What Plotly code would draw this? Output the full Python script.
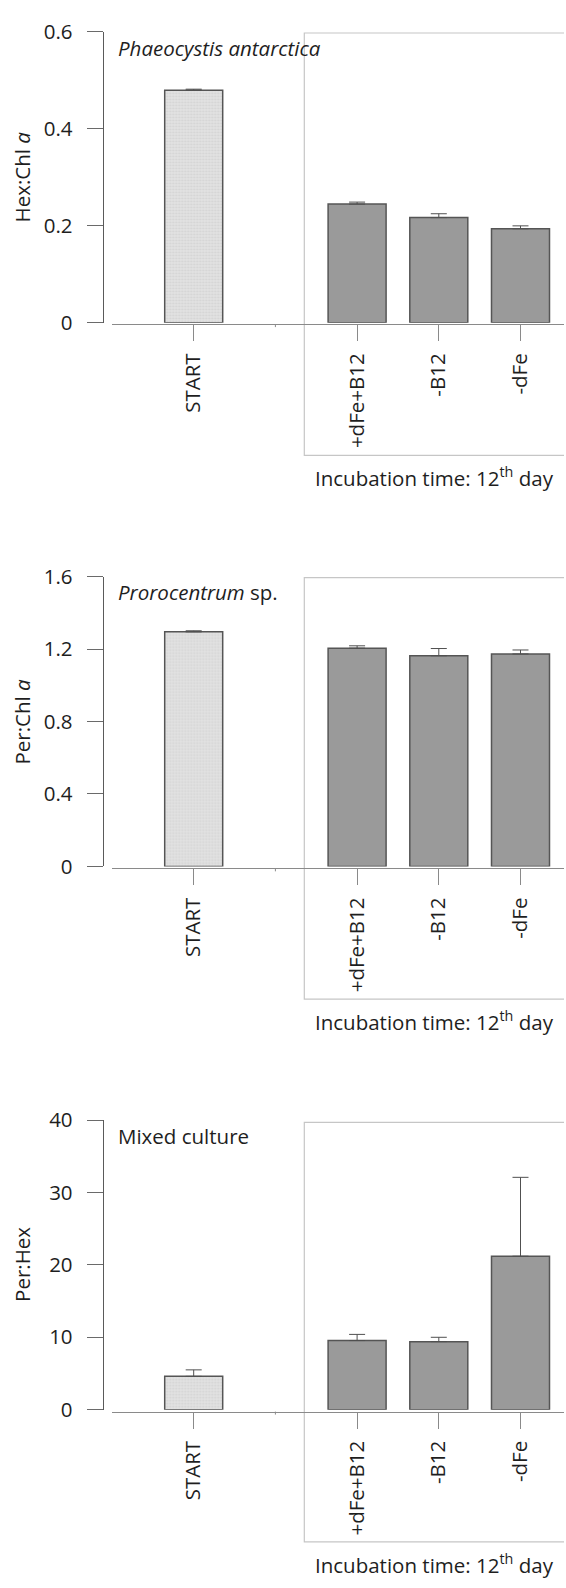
import plotly.graph_objects as go

# ---- data -------------------------------------------------------------
categories = ["START", "+dFe+B12", "-B12", "-dFe"]

hex_chl_mean = [0.480, 0.245, 0.217, 0.194]
hex_chl_err = [0.002, 0.004, 0.008, 0.006]

per_chl_mean = [1.295, 1.205, 1.163, 1.173]
per_chl_err = [0.006, 0.013, 0.040, 0.022]

per_hex_mean = [4.6, 9.55, 9.4, 21.2]
per_hex_err = [0.9, 0.85, 0.6, 10.9]

y_titles = ["Hex:Chl <i>a</i>", "Per:Chl <i>a</i>", "Per:Hex"]
panel_labels = ["<i>Phaeocystis antarctica</i>", "<i>Prorocentrum</i> sp.", "Mixed culture"]
y_ticks = [[0, 0.2, 0.4, 0.6], [0, 0.4, 0.8, 1.2, 1.6], [0, 10, 20, 30, 40]]
y_tick_text = [["0", "0.2", "0.4", "0.6"], ["0", "0.4", "0.8", "1.2", "1.6"], ["0", "10", "20", "30", "40"]]
y_max = [0.6, 1.6, 40]
box_label = "Incubation time: 12<sup>th</sup> day"

# ---- layout constants (pixels) ---------------------------------------
W, H = 566, 1588
FONT = "Open Sans"
FS = 20.5
TEXT = "#1e1e1e"

# START sits in slot 0, the treatments in slots 2..4 (slot 1 left empty)
slots = [0] + [2 + i for i in range(len(categories) - 1)]

# per panel: y of axis top, y of zero, y of x-axis line, box top, box bottom
panels = [
    dict(top=17.3, zero=313.3, xline=314.7, box_top=18.3, box_bot=448.3),
    dict(top=571.7, zero=866.7, xline=868.7, box_top=572.7, box_bot=1001.7),
    dict(top=1125.0, zero=1419.7, xline=1421.7, box_top=1127.3, box_bot=1554.3),
]

X_LEFT, X_RIGHT = 111.7, 564.0          # extent of the x-axis line
UNIT = 81.7                              # px per slot
X0_PX = 193.7                            # px position of slot 0
Y_AXIS_X = 102.7
BOX_LEFT_PX = 304.3


def px_x(p):
    return p / W


def px_y(p):
    return 1 - p / H


x_range = [(X_LEFT - X0_PX) / UNIT, (X_RIGHT - X0_PX) / UNIT]
box_left = (BOX_LEFT_PX - X0_PX) / UNIT
box_right = (W + 2 - X0_PX) / UNIT

series = [
    (hex_chl_mean, hex_chl_err),
    (per_chl_mean, per_chl_err),
    (per_hex_mean, per_hex_err),
]

fig = go.Figure()
shapes = []
annotations = []

for k, ((mean, err), pn) in enumerate(zip(series, panels)):
    n = k + 1
    xa = "x" if n == 1 else f"x{n}"
    ya = "y" if n == 1 else f"y{n}"

    err_style = dict(type="data", symmetric=False, color="#505050", thickness=1, width=8)

    # START bar (light, stippled)
    fig.add_trace(go.Bar(
        x=[slots[0]], y=[mean[0]], width=0.71,
        marker=dict(
            color="#dedede",
            line=dict(color="#555555", width=1.5),
            pattern=dict(shape=".", fgcolor="#c4c4c4", bgcolor="#e2e2e2", size=3, solidity=0.35),
        ),
        error_y=dict(array=[err[0]], arrayminus=[0], **err_style),
        xaxis=xa, yaxis=ya, showlegend=False, hoverinfo="skip",
    ))
    # treatment bars (dark gray)
    fig.add_trace(go.Bar(
        x=slots[1:], y=mean[1:], width=0.71,
        marker=dict(color="#9a9a9a", line=dict(color="#555555", width=1.5)),
        error_y=dict(array=err[1:], arrayminus=[0] * (len(mean) - 1), **err_style),
        xaxis=xa, yaxis=ya, showlegend=False, hoverinfo="skip",
    ))

    ydom = [px_y(pn["zero"]), px_y(pn["top"])]
    xkey = "xaxis" if n == 1 else f"xaxis{n}"
    ykey = "yaxis" if n == 1 else f"yaxis{n}"

    fig.layout[xkey] = dict(
        domain=[px_x(X_LEFT), px_x(X_RIGHT)],
        range=x_range,
        anchor="free",
        position=px_y(pn["xline"]),
        showline=True, linecolor="#8a8a8a", linewidth=1,
        ticks="outside", ticklen=16, tickcolor="#8a8a8a", tickwidth=1,
        tickvals=slots, ticktext=categories, tickangle=-90,
        ticklabelstandoff=4,
        tickfont=dict(family=FONT, size=FS, color=TEXT),
        showgrid=False, zeroline=False, fixedrange=True,
    )
    fig.layout[ykey] = dict(
        domain=ydom,
        range=[0, y_max[k]],
        anchor="free",
        position=px_x(Y_AXIS_X),
        showline=True, linecolor="#5a5a5a", linewidth=1,
        ticks="outside", ticklen=16, tickcolor="#6a6a6a", tickwidth=1,
        tickvals=y_ticks[k], ticktext=y_tick_text[k],
        ticklabelstandoff=10,
        tickfont=dict(family=FONT, size=FS, color=TEXT),
        showgrid=False, zeroline=False, fixedrange=True,
    )

    # treatment enclosure box
    shapes.append(dict(
        type="rect", xref=xa, yref="paper",
        x0=box_left, x1=box_right,
        y0=px_y(pn["box_bot"]), y1=px_y(pn["box_top"]),
        line=dict(color="#c6c6c6", width=1.2), fillcolor="rgba(0,0,0,0)",
        layer="below",
    ))
    # short mark at the empty slot
    shapes.append(dict(
        type="line", xref=xa, yref="paper",
        x0=1, x1=1, y0=px_y(pn["xline"]), y1=px_y(pn["xline"] + 3),
        line=dict(color="#8a8a8a", width=1),
    ))

    # y-axis title
    annotations.append(dict(
        text=y_titles[k], xref="paper", yref="paper",
        x=px_x(22), y=px_y((pn["top"] + pn["zero"]) / 2),
        xanchor="center", yanchor="middle", textangle=-90, showarrow=False,
        font=dict(family=FONT, size=FS, color=TEXT),
    ))
    # panel label
    annotations.append(dict(
        text=panel_labels[k], xref="paper", yref="paper",
        x=px_x(116.0), y=px_y(pn["top"] + 16),
        xanchor="left", yanchor="middle", showarrow=False,
        font=dict(family=FONT, size=FS, color=TEXT),
    ))
    # incubation-time caption under the box
    annotations.append(dict(
        text=box_label, xref="paper", yref="paper",
        x=px_x(434), y=px_y(pn["box_bot"] + 22),
        xanchor="center", yanchor="middle", showarrow=False,
        font=dict(family=FONT, size=FS, color=TEXT),
    ))

fig.update_layout(
    width=W, height=H,
    margin=dict(l=0, r=0, t=0, b=0),
    paper_bgcolor="white", plot_bgcolor="rgba(0,0,0,0)",
    barmode="overlay",
    shapes=shapes, annotations=annotations,
    showlegend=False,
)

fig.write_html("out.html", config=dict(displayModeBar=False))
